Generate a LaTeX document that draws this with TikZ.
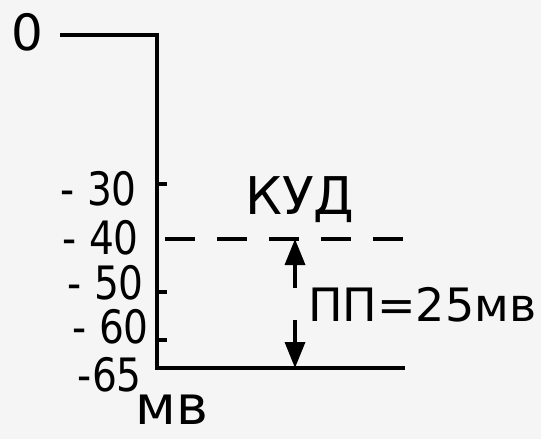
\documentclass[tikz,border=0pt]{standalone}
\usepackage{fontspec}
\setmainfont{DejaVu Sans}
\newfontfamily\hand[FakeStretch=0.85]{DejaVu Sans}
\usetikzlibrary{arrows.meta}
\begin{document}
\begin{tikzpicture}[x=1pt,y=-1pt,
  axis/.style={line width=4.5pt,line join=miter},
  tick/.style={line width=3.5pt},
  num/.style={font=\hand\fontsize{46}{46}\selectfont,inner sep=0pt,anchor=east},
  lbl/.style={font=\fontsize{46}{46}\selectfont,inner sep=0pt},
  arr/.style={line width=3.5pt,-{Triangle[width=20pt 0 0,length=26pt 0 0]}},
  dashline/.style={line width=3.5pt,dash pattern=on 30pt off 22pt}]
\fill[white!96!black] (0,0) rectangle (541,439);
\useasboundingbox (0,0) rectangle (541,439);
% axis
\coordinate (tl) at (60,35);
\coordinate (top) at (157,35);
\coordinate (bot) at (157,368);
\coordinate (br) at (405,368);
\draw[axis] (tl) -- (top) -- (bot) -- (br);
% ticks
\coordinate (t30) at (157,184);
\coordinate (t50) at (157,292);
\coordinate (t60) at (157,340);
\draw[tick] (t30) -- ++(10,0);
\draw[tick] (t50) -- ++(10,0);
\draw[tick] (t60) -- ++(10,0);
% dashed threshold line
\coordinate (d0) at (165,239);
\coordinate (d1) at (412,239);
\draw[dashline] (d0) -- (d1);
% labels
\node[font=\fontsize{50}{50}\selectfont,inner sep=0pt] (n0) at (27,32) {0};
\node[num] (n30) at (137,189) {-\;30};
\node[num] (n40) at (139,238) {-\;40};
\node[num] (n50) at (144,283) {-\;50};
\node[num] (n60) at (149,327) {-\;60};
\node[num] (n65) at (142,375) {-65};
\node[font=\fontsize{54}{54}\selectfont,inner sep=0pt] (mv) at (172,410) {мв};
\node[font=\fontsize{52}{52}\selectfont,inner sep=0pt] (kud) at (300,200) {КУД};
\node[lbl,anchor=west] (pp) at (308,305) {ПП=25мв};
% arrows
\coordinate (kudpt) at (295,239);
\coordinate (a1) at (295,288);
\coordinate (a2) at (295,320);
\coordinate (rest) at (295,368);
\draw[arr] (a1) -- (kudpt);
\draw[arr] (a2) -- (rest);
\end{tikzpicture}
\end{document}
